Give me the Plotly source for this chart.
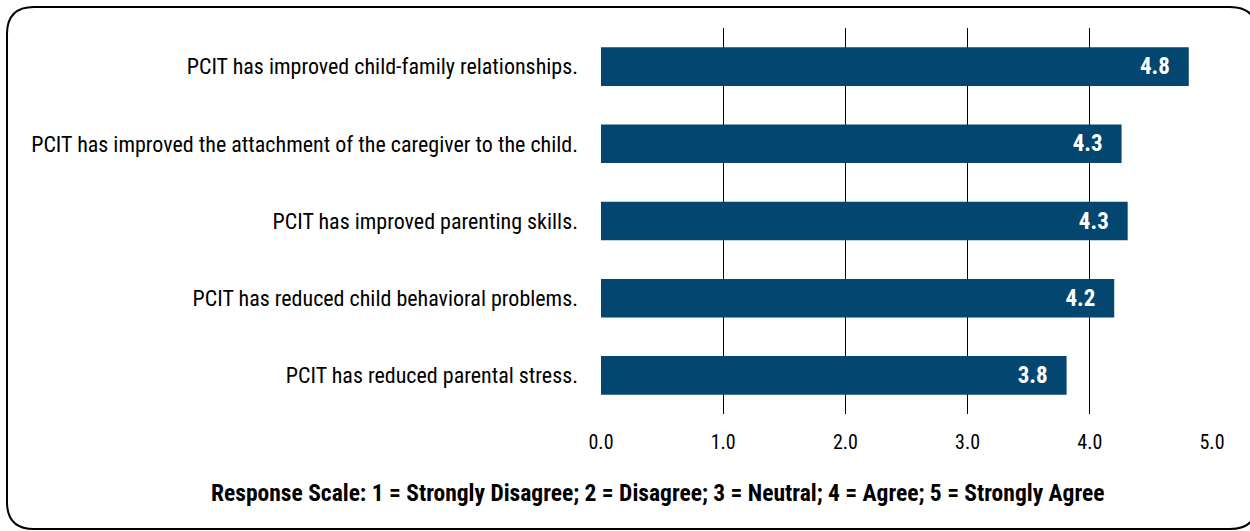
import plotly.graph_objects as go

categories = [
    "PCIT has improved child-family relationships.",
    "PCIT has improved the attachment of the caregiver to the child.",
    "PCIT has improved parenting skills.",
    "PCIT has reduced child behavioral problems.",
    "PCIT has reduced parental stress.",
]
values = [4.81, 4.26, 4.31, 4.20, 3.81]
tick_vals = [0, 1, 2, 3, 4, 5]
tick_text = ["0.0", "1.0", "2.0", "3.0", "4.0", "5.0"]
footnote = "Response Scale: 1 = Strongly Disagree; 2 = Disagree; 3 = Neutral; 4 = Agree; 5 = Strongly Agree"

W, H = 1250, 531
ML, MR, MT, MB = 601, 38, 28, 117
FONT = "Liberation Sans Narrow, Arial Narrow, Roboto Condensed, Liberation Sans, Arial"
BAR = "#03466f"


def to_paper(px, py):
    pw = W - ML - MR
    ph = H - MT - MB
    return (px - ML) / pw, (H - MB - py) / ph


def rounded_box(x0, y0, x1, y1, r):
    # rounded rectangle in pixel coords, converted to paper coords
    pts = []
    cmds = [
        ("M", x0 + r, y0), ("L", x1 - r, y0), ("Q", x1, y0, x1, y0 + r),
        ("L", x1, y1 - r), ("Q", x1, y1, x1 - r, y1),
        ("L", x0 + r, y1), ("Q", x0, y1, x0, y1 - r),
        ("L", x0, y0 + r), ("Q", x0, y0, x0 + r, y0),
    ]
    for c in cmds:
        nums = []
        for i in range(1, len(c), 2):
            a, b = to_paper(c[i], c[i + 1])
            nums.append(f"{a:.5f},{b:.5f}")
        pts.append(c[0] + " " + " ".join(nums))
    return " ".join(pts) + " Z"


fig = go.Figure(go.Bar(
    x=values,
    y=categories,
    orientation="h",
    marker=dict(color=BAR, line=dict(width=0)),
    width=0.5,
    text=[f"{v:.1f}&nbsp;&nbsp;&nbsp;" for v in values],
    textposition="inside",
    insidetextanchor="end",
    textfont=dict(color="white", size=23, family=FONT, weight="bold"),
    cliponaxis=False,
))

fig.update_layout(
    width=W, height=H,
    margin=dict(l=ML, r=MR, t=MT, b=MB),
    plot_bgcolor="white", paper_bgcolor="white",
    showlegend=False,
    font=dict(family=FONT, size=19, color="black"),
    xaxis=dict(
        range=[0, 5], tickvals=tick_vals, ticktext=tick_text,
        showgrid=True, gridcolor="black", gridwidth=1,
        zeroline=False, showline=False, ticks="", ticklabelstandoff=14,
        tickfont=dict(size=20),
    ),
    yaxis=dict(
        categoryorder="array", categoryarray=categories[::-1],
        showgrid=False, zeroline=False,
        ticks="", ticklabelstandoff=22, tickfont=dict(size=22),
    ),
    bargap=0.5,
    shapes=[dict(
        type="path", xref="paper", yref="paper",
        path=rounded_box(7, 7, 1257, 529, 27),
        line=dict(color="black", width=2), layer="below",
    )],
    annotations=[dict(
        text="<b>" + footnote + "</b>", xref="paper", yref="paper",
        x=to_paper(657, 0)[0], y=to_paper(0, 493)[1],
        xanchor="center", yanchor="middle", showarrow=False,
        font=dict(size=23.5, family=FONT),
    )],
)

fig.write_html("out.html", config={"displayModeBar": False},
               post_script="document.body.style.margin='0';")
